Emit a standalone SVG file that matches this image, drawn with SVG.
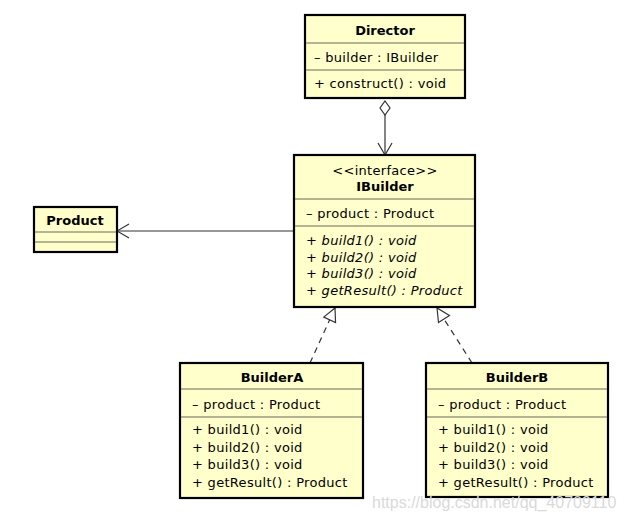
<svg xmlns="http://www.w3.org/2000/svg" width="624" height="522" viewBox="0 0 624 522">
<style>
.box{fill:#ffffcc;stroke:#000;stroke-width:2.2}
.sep{stroke:#6b6b5a;stroke-width:1.2}
text{font-family:"DejaVu Sans","Liberation Sans",sans-serif;font-size:13px;fill:#000;letter-spacing:0.3px}
.name{font-weight:bold;text-anchor:middle;letter-spacing:0}
.st{text-anchor:middle}
.it{font-style:italic}
.conn{stroke:#333;stroke-width:1.2;fill:none}
.wm{font-family:"Liberation Sans",Arial,sans-serif;font-size:16px;fill:#dadada;letter-spacing:0}
</style>
<defs>
<marker id="open" markerWidth="14" markerHeight="16" refX="13" refY="8" orient="auto" markerUnits="userSpaceOnUse">
<path d="M1,1 L13,8 L1,15" fill="none" stroke="#333" stroke-width="1.2"/>
</marker>
<marker id="tri" markerWidth="16" markerHeight="16" refX="14" refY="8" orient="auto" markerUnits="userSpaceOnUse">
<path d="M1,1.5 L14,8 L1,14.5 Z" fill="#fff" stroke="#333" stroke-width="1.2"/>
</marker>
<marker id="dia" markerWidth="18" markerHeight="12" refX="1" refY="6" orient="auto" markerUnits="userSpaceOnUse">
<path d="M1,6 L8,1 L15,6 L8,11 Z" fill="#fff" stroke="#333" stroke-width="1.2"/>
</marker>
</defs>
<g id="connectors">
<line class="conn" x1="385" y1="101" x2="385" y2="155" marker-start="url(#dia)" marker-end="url(#open)"/>
<line class="conn" x1="294" y1="231" x2="117" y2="231" marker-end="url(#open)"/>
<line class="conn" x1="310" y1="363" x2="335" y2="308" stroke-dasharray="6,5" marker-end="url(#tri)"/>
<line class="conn" x1="472" y1="363" x2="437" y2="308" stroke-dasharray="6,5" marker-end="url(#tri)"/>
</g>
<g id="Director">
<rect class="box" x="305" y="15" width="160" height="83"/>
<line class="sep" x1="306" y1="43" x2="464" y2="43"/>
<line class="sep" x1="306" y1="70" x2="464" y2="70"/>
<text class="name" x="385" y="35">Director</text>
<text x="314" y="62">– builder : IBuilder</text>
<text x="314" y="88">+ construct() : void</text>
</g>
<g id="IBuilder">
<rect class="box" x="294" y="155" width="181" height="152"/>
<line class="sep" x1="295" y1="199" x2="474" y2="199"/>
<line class="sep" x1="295" y1="226" x2="474" y2="226"/>
<text class="st" x="385" y="175">&lt;&lt;interface&gt;&gt;</text>
<text class="name" x="385" y="191">IBuilder</text>
<text x="306" y="218">– product : Product</text>
<text class="it" x="306" y="245">+ build1() : void</text>
<text class="it" x="306" y="262">+ build2() : void</text>
<text class="it" x="306" y="278">+ build3() : void</text>
<text class="it" x="306" y="295">+ getResult() : Product</text>
</g>
<g id="Product">
<rect class="box" x="34" y="207" width="83" height="45"/>
<line class="sep" x1="35" y1="232" x2="116" y2="232"/>
<line class="sep" x1="35" y1="242" x2="116" y2="242"/>
<text class="name" x="75" y="225">Product</text>
</g>
<g id="BuilderA">
<rect class="box" x="180" y="363" width="183" height="135"/>
<line class="sep" x1="181" y1="389" x2="362" y2="389"/>
<line class="sep" x1="181" y1="417" x2="362" y2="417"/>
<text class="name" x="272" y="382">BuilderA</text>
<text x="192" y="409">– product : Product</text>
<text x="192" y="434">+ build1() : void</text>
<text x="192" y="452">+ build2() : void</text>
<text x="192" y="469">+ build3() : void</text>
<text x="192" y="487">+ getResult() : Product</text>
</g>
<g id="BuilderB">
<rect class="box" x="426" y="363" width="182" height="134"/>
<line class="sep" x1="427" y1="389" x2="607" y2="389"/>
<line class="sep" x1="427" y1="417" x2="607" y2="417"/>
<text class="name" x="517" y="382">BuilderB</text>
<text x="438" y="409">– product : Product</text>
<text x="438" y="434">+ build1() : void</text>
<text x="438" y="452">+ build2() : void</text>
<text x="438" y="469">+ build3() : void</text>
<text x="438" y="487">+ getResult() : Product</text>
</g>
<text class="wm" x="372" y="508">https://blog.csdn.net/qq_40709110</text>
</svg>
